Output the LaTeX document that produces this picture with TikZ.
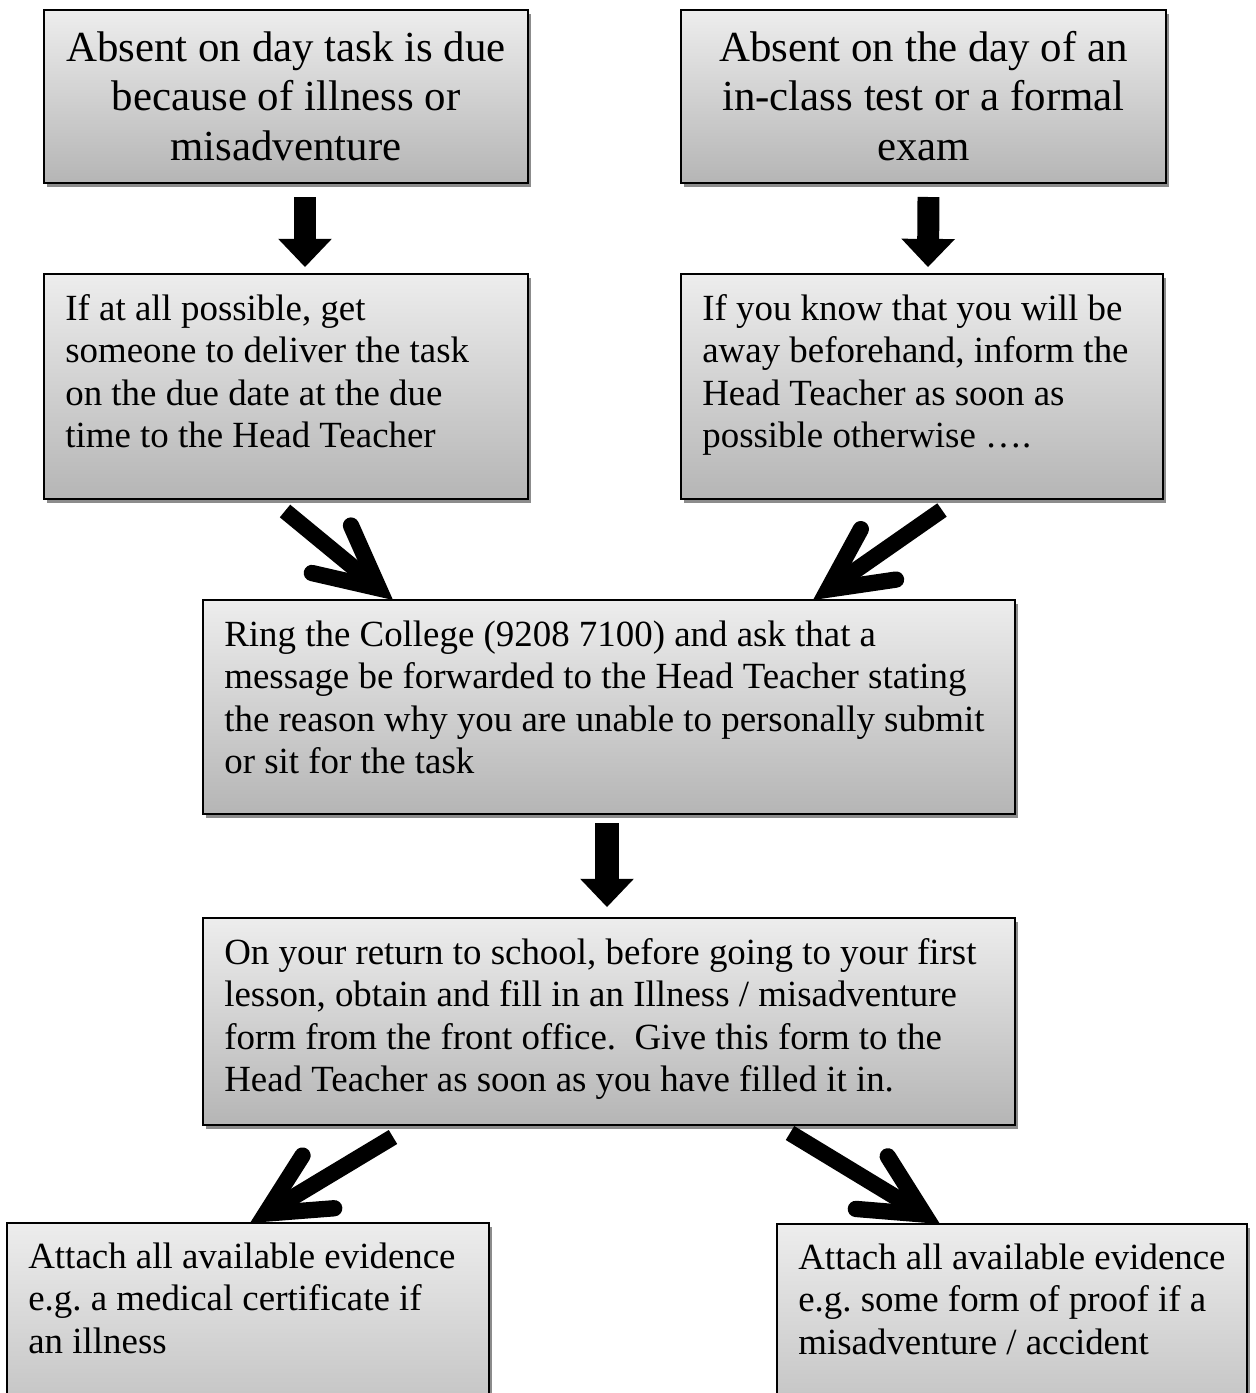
\documentclass[tikz,border=0pt]{standalone}
\usepackage{fontspec}
\setmainfont{Liberation Serif}
\usetikzlibrary{arrows.meta, positioning, shadows, calc}
\frenchspacing

\begin{document}
\begin{tikzpicture}[
			x=0.02cm, y=-0.02cm,
			kotak/.style 2 args={draw, rectangle, anchor=north west, inner sep=0pt, outer sep=0pt, minimum width=#1*0.02cm, minimum height=#2*0.02cm, line width=0.9pt, top color=black!7, bottom color=black!29, drop shadow={shadow xshift=1.8pt, shadow yshift=-2.3pt, fill=black!45, opacity=1}},
			judul/.style={anchor=north, align=center, inner sep=0pt, font=\fontsize{24.4}{28.3}\selectfont},
			isi/.style={anchor=north west, align=left, inner sep=0pt, font=\fontsize{21}{24.2}\selectfont},
			panah/.style={line width=#1, -{Triangle[length=16pt, width=30.5pt, line width=0pt]}},
			miring/.style={line width=9.3pt, -{Straight Barb[length=35pt, width=35pt, line cap=round, line join=miter]}}
		]
		\useasboundingbox (0,0) rectangle (1255,1393);
		\clip (0,0) rectangle (1255,1393);

		% Kotak atas
		\node[kotak={484}{173}] (absen) at (44,10) {};
		\node[kotak={485}{173}] (ujian) at (681,10) {};
		\node[judul] (tabsen) at ($(absen.north)+(0,16)$) {\strut Absent on day task is due\\because of illness or\\misadventure};
		\node[judul] (tujian) at ($(ujian.north)+(0,16)$) {\strut Absent on the day of an\\in-class test or a formal\\exam};

		% Kotak kedua
		\node[kotak={484}{225}] (kirim) at (44,274) {};
		\node[kotak={482}{225}] (izin) at (681,274) {};
		\node[isi] (tkirim) at ($(kirim.north west)+(21,16)$) {\strut If at all possible, get\\someone to deliver the task\\on the due date at the due\\time to the Head Teacher};
		\node[isi] (tizin) at ($(izin.north west)+(21,16)$) {\strut If you know that you will be\\away beforehand, inform the\\Head Teacher as soon as\\possible otherwise ….};

		% Kotak tengah
		\node[kotak={812}{214}] (telepon) at (203,600) {};
		\node[isi] (ttelepon) at ($(telepon.north west)+(21,16)$) {\strut Ring the College (9208 7100) and ask that a\\message be forwarded to the Head Teacher stating\\the reason why you are unable to personally submit\\or sit for the task};
		\node[kotak={812}{207}] (formulir) at (203,918) {};
		\node[isi] (tformulir) at ($(formulir.north west)+(21,16)$) {\strut On your return to school, before going to your first\\lesson, obtain and fill in an Illness / misadventure\\form from the front office.\ \ Give this form to the\\Head Teacher as soon as you have filled it in.};

		% Kotak bawah
		\node[kotak={482}{250}] (medis) at (7,1223) {};
		\node[kotak={470}{250}] (bukti) at (777,1224) {};
		\node[isi] (tmedis) at ($(medis.north west)+(21,15)$) {\strut Attach all available evidence\\e.g. a medical certificate if\\an illness};
		\node[isi] (tbukti) at ($(bukti.north west)+(21,15)$) {\strut Attach all available evidence\\e.g. some form of proof if a\\misadventure / accident};

		% Panah lurus
		\draw[panah=12.5pt] ($(absen.south)+(19,14)$) -- ($(kirim.north)+(19,-7)$);
		\draw[panah=12.5pt] ($(ujian.south)+(5,14)$) -- ($(izin.north)+(6,-7)$);
		\draw[panah=14pt] ($(telepon.south)+(-2,9)$) -- ($(formulir.north)+(-2,-11)$);

		% Panah miring
		\draw[miring] ($(kirim.south)+(-1,12)$) -- ($(telepon.north west)+(190,0)$);
		\draw[miring] ($(izin.south)+(20,11)$) -- ($(telepon.north west)+(610,0)$);
		\draw[miring] ($(formulir.south)+(-216,12)$) -- ($(medis.north west)+(243,0)$);
		\draw[miring] ($(formulir.south)+(181,8)$) -- ($(bukti.north west)+(163,0)$);
	\end{tikzpicture}
\end{document}
